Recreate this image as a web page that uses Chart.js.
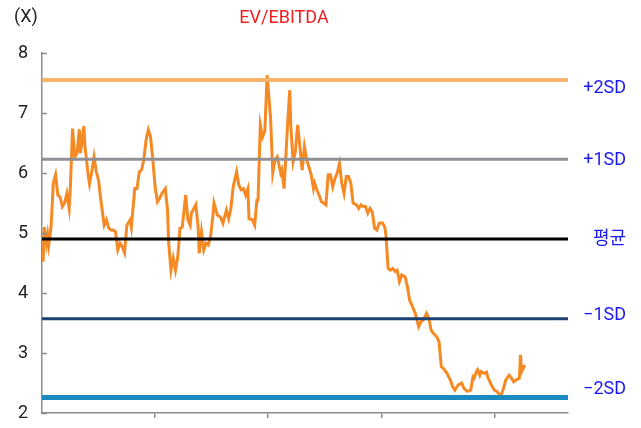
<!DOCTYPE html>
<html>
<head>
<meta charset="utf-8">
<script src="https://cdn.jsdelivr.net/npm/chart.js@4.4.0/dist/chart.umd.min.js"></script>
<style>
  html, body { margin: 0; padding: 0; background: #fff; overflow: hidden; }
  #wrap { width: 641px; height: 428px; }
</style>
</head>
<body>
<div id="wrap"><canvas id="chartEvEbitda"></canvas></div>
<script>
// x = years from start of the series, y = EV/EBITDA multiple
const years = [
  0.01, 0.02, 0.04, 0.05, 0.06, 0.08, 0.10, 0.12, 0.14, 0.16, 0.18, 0.20, 0.22, 0.24, 0.25, 0.27, 0.29, 0.31, 0.33, 0.34,
  0.37, 0.38, 0.41, 0.42, 0.44, 0.46, 0.48, 0.50, 0.52, 0.55, 0.57, 0.59, 0.61, 0.63, 0.65, 0.67, 0.69, 0.71, 0.73, 0.75,
  0.78, 0.79, 0.82, 0.84, 0.86, 0.88, 0.90, 0.92, 0.94, 0.96, 0.98, 1.00, 1.02, 1.04, 1.06, 1.09, 1.11, 1.12, 1.14, 1.16,
  1.18, 1.20, 1.22, 1.24, 1.27, 1.29, 1.31, 1.32, 1.36, 1.38, 1.39, 1.41, 1.43, 1.45, 1.47, 1.49, 1.51, 1.52, 1.55, 1.58,
  1.60, 1.63, 1.65, 1.67, 1.69, 1.72, 1.74, 1.76, 1.78, 1.80, 1.82, 1.83, 1.86, 1.88, 1.90, 1.91, 1.93, 1.95, 1.97, 1.99,
  2.02, 2.04, 2.06, 2.08, 2.11, 2.12, 2.14, 2.17, 2.19, 2.20, 2.22, 2.24, 2.26, 2.28, 2.30, 2.32, 2.34, 2.36, 2.38, 2.40,
  2.41, 2.43, 2.45, 2.47, 2.49, 2.51, 2.53, 2.55, 2.57, 2.59, 2.61, 2.63, 2.65, 2.67, 2.69, 2.71, 2.73, 2.75, 2.78, 2.80,
  2.82, 2.84, 2.86, 2.88, 2.90, 2.92, 2.94, 2.96, 2.98, 3.01, 3.03, 3.04, 3.06, 3.08, 3.10, 3.12, 3.14, 3.16, 3.18, 3.21,
  3.23, 3.25, 3.27, 3.30, 3.33, 3.35, 3.37, 3.40, 3.42, 3.44, 3.46, 3.49, 3.51, 3.53, 3.55, 3.58, 3.61, 3.63, 3.65, 3.68,
  3.71, 3.73, 3.76, 3.79, 3.81, 3.82, 3.84, 3.85, 3.87, 3.88, 3.91, 3.93, 3.94, 3.96, 3.98, 4.00, 4.02, 4.05, 4.06, 4.08,
  4.10, 4.13, 4.15, 4.17, 4.19, 4.22, 4.23, 4.24, 4.26, 4.27
];
const evEbitda = [
  4.52, 5.10, 4.83, 4.97, 4.80, 5.10, 5.83, 5.97, 5.63, 5.60, 5.44, 5.50, 5.66, 5.41, 5.72, 6.74, 6.27, 6.33, 6.73, 6.33,
  6.78, 6.44, 5.94, 5.82, 6.02, 6.27, 6.02, 5.88, 5.55, 5.13, 5.22, 5.08, 5.05, 5.05, 5.02, 4.72, 4.83, 4.77, 4.67, 5.13,
  5.22, 5.10, 5.74, 5.74, 6.02, 6.05, 6.22, 6.55, 6.72, 6.60, 6.22, 5.77, 5.52, 5.58, 5.66, 5.74, 5.38, 4.83, 4.38, 4.58,
  4.38, 4.60, 5.08, 5.10, 5.63, 5.22, 5.13, 5.33, 5.47, 5.10, 4.66, 5.02, 4.72, 4.83, 4.80, 4.94, 5.27, 5.50, 5.30, 5.26,
  5.16, 5.38, 5.24, 5.41, 5.77, 6.02, 5.80, 5.72, 5.74, 5.63, 5.74, 5.24, 5.22, 5.13, 5.55, 5.55, 6.80, 6.60, 6.70, 7.63,
  6.94, 6.00, 6.22, 6.27, 6.00, 6.05, 5.74, 6.77, 7.38, 6.77, 6.19, 6.36, 6.80, 6.44, 6.05, 6.44, 6.22, 6.10, 5.97, 5.74,
  5.83, 5.72, 5.63, 5.52, 5.50, 5.47, 5.97, 5.97, 5.77, 5.91, 6.00, 6.16, 5.83, 5.66, 5.94, 5.94, 5.83, 5.50, 5.47, 5.41,
  5.47, 5.44, 5.44, 5.33, 5.41, 5.35, 5.08, 5.05, 5.16, 5.17, 5.10, 4.97, 4.41, 4.38, 4.41, 4.36, 4.38, 4.19, 4.30, 4.27,
  4.11, 3.88, 3.80, 3.66, 3.44, 3.52, 3.55, 3.66, 3.58, 3.38, 3.33, 3.27, 3.19, 2.77, 2.74, 2.66, 2.55, 2.44, 2.38, 2.47,
  2.50, 2.41, 2.36, 2.38, 2.60, 2.58, 2.69, 2.72, 2.63, 2.69, 2.66, 2.68, 2.60, 2.52, 2.44, 2.38, 2.36, 2.30, 2.30, 2.41,
  2.55, 2.63, 2.58, 2.52, 2.55, 2.58, 2.97, 2.69, 2.77, 2.80
];
const bandLabels = ['+2SD', '+1SD', '평균', '\u22121SD', '\u22122SD'];
const bandValues = [7.55, 6.23, 4.90, 3.57, 2.26];
const bandColors = ['#F5B46E', '#8E9093', '#000000', '#1E4173', '#1A8AC0'];
const bandWidths = [4, 3, 3, 3, 5];
const yTicks = [2, 3, 4, 5, 6, 7, 8];
const xTicks = [1, 2, 3, 4];
const xMax = 4.65;

const FONT = "Roboto, 'Noto Sans CJK KR', sans-serif";

const bandDatasets = bandValues.map(function (v, i) {
    return {
        label: bandLabels[i],
        data: [{ x: 0, y: v }, { x: xMax, y: v }],
        borderColor: bandColors[i],
        borderWidth: bandWidths[i],
        pointRadius: 0,
        fill: false,
        order: 0
    };
});

const evData = {
    datasets: bandDatasets.concat([{
        label: 'EV/EBITDA',
        data: years.map(function (x, i) { return { x: x, y: evEbitda[i] }; }),
        borderColor: '#F58A25',
        borderWidth: 3,
        pointRadius: 0,
        tension: 0,
        fill: false,
        order: 1
    }])
};

// texts and inward y tick marks
const decorPlugin = {
    id: 'decor',
    afterDraw: function (chart) {
        const ctx = chart.ctx;
        const area = chart.chartArea;
        const yScale = chart.scales.y;
        ctx.save();
        ctx.strokeStyle = '#8C8C8C';
        ctx.lineWidth = 1.5;
        yTicks.forEach(function (t) {
            const py = Math.round(yScale.getPixelForValue(t)) + 0.5;
            ctx.beginPath();
            ctx.moveTo(area.left, py);
            ctx.lineTo(area.left + 5, py);
            ctx.stroke();
        });
        ctx.font = '18px ' + FONT;
        ctx.textBaseline = 'middle';
        ctx.fillStyle = '#222';
        ctx.textAlign = 'left';
        ctx.fillText('(X)', 14, 17);
        ctx.fillStyle = '#F01E1E';
        ctx.textAlign = 'center';
        ctx.fillText('EV/EBITDA', 284, 18);
        const dy = [8, 1, 0, -3, -8];
        ctx.fillStyle = '#1A1AF0';
        ctx.textAlign = 'right';
        bandValues.forEach(function (v, i) {
            ctx.fillText(bandLabels[i], 626, yScale.getPixelForValue(v) + dy[i]);
        });
        ctx.restore();
    }
};

const ctxEv = document.getElementById('chartEvEbitda').getContext('2d');
const chartEv = new Chart(ctxEv, {
    type: 'line',
    data: evData,
    plugins: [decorPlugin],
    options: {
        responsive: true,
        maintainAspectRatio: false,
        animation: false,
        layout: { padding: { top: 53, right: 73, left: 0, bottom: 0 } },
        plugins: {
            legend: { display: false },
            tooltip: { enabled: false }
        },
        scales: {
            x: {
                type: 'linear',
                min: 0,
                max: xMax,
                afterBuildTicks: function (scale) {
                    scale.ticks = xTicks.map(function (v) { return { value: v }; });
                },
                afterFit: function (scale) { scale.height = 15; },
                ticks: { display: false },
                grid: {
                    drawOnChartArea: false,
                    drawTicks: true,
                    tickLength: 5,
                    color: '#8C8C8C',
                    lineWidth: 1.5
                },
                border: { color: '#8C8C8C', width: 1.5 }
            },
            y: {
                min: 2,
                max: 8,
                afterBuildTicks: function (scale) {
                    scale.ticks = yTicks.map(function (v) { return { value: v }; });
                },
                afterFit: function (scale) {
                    scale.width = 42;
                    scale.paddingTop = 0;
                    scale.paddingBottom = 0;
                },
                ticks: {
                    padding: 14,
                    color: '#222',
                    font: { size: 18, family: FONT }
                },
                grid: { drawOnChartArea: false, drawTicks: false },
                border: { color: '#8C8C8C', width: 1.5 }
            }
        }
    }
});
</script>
</body>
</html>
